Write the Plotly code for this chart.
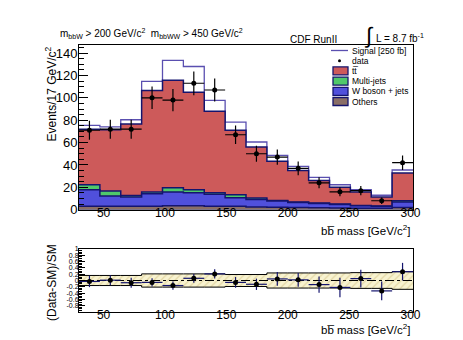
import plotly.graph_objects as go

# ---------------- data ----------------
bin_edges = [30, 47, 64, 81, 98, 115, 132, 149, 166, 183, 200, 217, 234, 251, 268, 285, 302]
others   = [3.0, 3.0, 3.0, 3.0, 3.6, 3.6, 3.0, 3.0, 2.5, 2.2, 2.0, 1.8, 1.5, 1.3, 1.2, 2.0]
wjets    = [14.9, 9.2, 8.3, 11.3, 12.2, 11.6, 10.7, 7.7, 6.7, 5.5, 4.5, 3.8, 3.2, 2.2, 1.8, 4.9]
multijet = [4.4, 4.5, 1.5, 1.5, 3.9, 2.7, 1.5, 2.7, 1.3, 0.6, 0.4, 0.4, 0.4, 0.3, 0.3, 1.1]
ttbar    = [49.7, 54.8, 63.7, 90.8, 95.9, 87.1, 72.7, 57.5, 45.5, 34.9, 28.2, 20.0, 14.9, 12.0, 8.0, 24.7]
signal   = [3.4, 2.5, 3.9, 8.1, 17.9, 23.0, 9.8, 7.4, 4.5, 5.4, 3.6, 2.9, 2.3, 2.1, 1.6, 2.8]
data     = [71, 72, 72, 100, 98, 113, 107, 67, 50, 47, 37, 24, 16, 17, 8, 42]
data_err = [8.4, 8.5, 8.5, 10.0, 9.9, 10.6, 10.3, 8.2, 7.1, 6.9, 6.1, 4.9, 4.0, 4.1, 2.8, 6.5]
ratio     = [-0.03, 0.01, -0.07, -0.06, -0.16, 0.07, 0.21, -0.06, -0.12, 0.05, 0.02, -0.13, -0.22, 0.06, -0.33, 0.28]
ratio_err = [0.18, 0.16, 0.16, 0.13, 0.13, 0.14, 0.15, 0.17, 0.18, 0.22, 0.22, 0.26, 0.31, 0.28, 0.30, 0.28]
band_half = [0.16, 0.16, 0.16, 0.21, 0.21, 0.21, 0.21, 0.19, 0.19, 0.24, 0.24, 0.24, 0.24, 0.25, 0.25, 0.28]

x_tick_vals = [50, 100, 150, 200, 250, 300]
y_tick_vals = [0, 20, 40, 60, 80, 100, 120, 140]
ratio_tick_vals = [-0.8, -0.6, -0.4, -0.2, 0, 0.2, 0.4, 0.6, 0.8, 1]
ratio_tick_text = ["-0.8", "-0.6", "-0.4", "-0.2", "0", "0.2", "0.4", "0.6", "0.8", "1"]

# ---------------- helpers ----------------
W, H = 463, 340
ML, MR, MT, MB = 71, 58, 37, 36
PW, PH = W - ML - MR, H - MT - MB
FONT = "Liberation Sans, Arial, sans-serif"

def px(x):
    return (x - ML) / PW

def py(y):
    return (H - MB - y) / PH

def step(v):
    return list(v) + [v[-1]]

def cum(*arrs):
    return [sum(a[i] for a in arrs) for i in range(len(arrs[0]))]

centers = [(a + b) / 2 for a, b in zip(bin_edges[:-1], bin_edges[1:])]
half_w = [(b - a) / 2 for a, b in zip(bin_edges[:-1], bin_edges[1:])]

c_oth = cum(others)
c_w = cum(others, wjets)
c_mj = cum(others, wjets, multijet)
c_sm = cum(others, wjets, multijet, ttbar)
c_sig = cum(others, wjets, multijet, ttbar, signal)

NAVY = "#14146e"
SIGC = "#5a4fb0"
RED = "#cd5a5a"
GREEN = "#4fc86a"
BLUE = "#5050dc"
BROWN = "#8a6e66"

fig = go.Figure()

def hist(vals, fill, line, lw=1.5):
    fig.add_trace(go.Scatter(
        x=bin_edges, y=step(vals), mode="lines", line=dict(shape="hv", color=line, width=lw),
        fill="tozeroy", fillcolor=fill, xaxis="x", yaxis="y", showlegend=False, hoverinfo="skip"))

hist(c_sig, "white", SIGC, 1.3)
hist(c_sm, RED, NAVY)
hist(c_mj, GREEN, NAVY)
hist(c_w, BLUE, NAVY)
hist(c_oth, BROWN, NAVY)

fig.add_trace(go.Scatter(
    x=centers, y=data, mode="markers",
    marker=dict(color="black", size=5),
    error_y=dict(type="data", array=data_err, color="black", thickness=1.2, width=0),
    error_x=dict(type="data", array=half_w, color="black", thickness=1.2, width=0),
    xaxis="x", yaxis="y", showlegend=False))

# ratio panel
fig.add_trace(go.Scatter(
    x=bin_edges, y=step([-h for h in band_half]), mode="lines",
    line=dict(shape="hv", color="black", width=1), xaxis="x2", yaxis="y2", showlegend=False))
fig.add_trace(go.Scatter(
    x=bin_edges, y=step(band_half), mode="lines",
    line=dict(shape="hv", color="black", width=1), fill="tonexty", fillcolor="#f8f3d0",
    fillpattern=dict(shape="/", bgcolor="#f8f3d0", fgcolor="#cdbb7a", size=5, solidity=0.25),
    xaxis="x2", yaxis="y2", showlegend=False))
fig.add_trace(go.Scatter(
    x=[bin_edges[0], bin_edges[-1]], y=[0, 0], mode="lines",
    line=dict(color="black", width=1, dash="dashdot"), xaxis="x2", yaxis="y2", showlegend=False))
fig.add_trace(go.Scatter(
    x=centers, y=ratio, mode="markers",
    marker=dict(color="black", size=5),
    error_y=dict(type="data", array=ratio_err, color=NAVY, thickness=1.2, width=0),
    error_x=dict(type="data", array=half_w, color=NAVY, thickness=1.2, width=0),
    xaxis="x2", yaxis="y2", showlegend=False))

axis_common = dict(showline=True, linecolor="black", linewidth=1, mirror=True, showgrid=False,
                   zeroline=False, tickfont=dict(family=FONT, size=12, color="black"))

fig.update_layout(
    width=W, height=H, paper_bgcolor="white", plot_bgcolor="white",
    margin=dict(l=ML, r=MR, t=MT, b=MB),
    font=dict(family=FONT, color="black"),
    xaxis=dict(domain=[0, 1], range=[bin_edges[0], bin_edges[-1]], anchor="y",
               tickvals=x_tick_vals, ticks="", ticklabelstandoff=-8, **axis_common),
    yaxis=dict(domain=[py(201.7), 1], range=[0, 147.2], anchor="x",
               tickvals=y_tick_vals, ticks="inside", ticklen=9, tickcolor="black",
               minor=dict(dtick=5, ticks="inside", ticklen=5, tickcolor="black"),
               ticklabelstandoff=-2,
               **{**axis_common, "tickfont": dict(family=FONT, size=13, color="black")}),
    xaxis2=dict(domain=[0, 1], range=[bin_edges[0], bin_edges[-1]], anchor="y2",
                tickvals=x_tick_vals, ticks="", ticklabelstandoff=-8, **axis_common),
    yaxis2=dict(domain=[0, py(241)], range=[-1, 1], anchor="x2",
                tickvals=ratio_tick_vals, ticktext=ratio_tick_text,
                ticks="inside", ticklen=6, tickcolor="black",
                minor=dict(dtick=0.05, ticks="inside", ticklen=3, tickcolor="black"),
                ticklabelstandoff=-2,
                **{**axis_common, "tickfont": dict(family=FONT, size=7, color="black")}),
)

ann = []
def text(t, x, y, size, xanchor="left", yanchor="middle", angle=0):
    ann.append(dict(text=t, x=px(x), y=py(y), xref="paper", yref="paper", showarrow=False,
                    xanchor=xanchor, yanchor=yanchor, textangle=angle,
                    font=dict(family=FONT, size=size, color="black")))

BB = "bb\u0305"
text("m<sub>bbW</sub> > 200 GeV/c<sup>2</sup>  m<sub>bbWW</sub> > 450 GeV/c<sup>2</sup>", 50, 26, 10)
text("CDF RunII", 280, 32, 10)
text("∫", 361, 28, 22, xanchor="center")
text("L = 8.7 fb<sup>-1</sup>", 366, 30, 10)
text("Events/17 GeV/c<sup>2</sup>", 42, 37, 12, xanchor="center", yanchor="top", angle=-90)
text("(Data-SM)/SM", 44, 275, 12, xanchor="center", yanchor="middle", angle=-90)
text(BB + " mass [GeV/c<sup>2</sup>]", 405, 222, 11.5, xanchor="right")
text(BB + " mass [GeV/c<sup>2</sup>]", 405, 321, 11.5, xanchor="right")

# manual legend
leg_items = [("Signal [250 fb]", "line", SIGC), ("data", "dot", "black"),
             ("tt\u0305", "box", RED), ("Multi-jets", "box", GREEN),
             ("W boson + jets", "box", BLUE), ("Others", "box", BROWN)]
shapes = []
for i, (lab, kind, col) in enumerate(leg_items):
    yc = 42.5 + i * 10.2
    if kind == "line":
        shapes.append(dict(type="line", xref="paper", yref="paper", x0=px(323), x1=px(340),
                           y0=py(yc), y1=py(yc), line=dict(color=col, width=1.3)))
    elif kind == "dot":
        shapes.append(dict(type="circle", xref="paper", yref="paper", x0=px(330), x1=px(333),
                           y0=py(yc - 1.5), y1=py(yc + 1.5), fillcolor="black", line=dict(width=0)))
    else:
        shapes.append(dict(type="rect", xref="paper", yref="paper", x0=px(325), x1=px(340),
                           y0=py(yc - 4), y1=py(yc + 4), fillcolor=col, line=dict(color=NAVY, width=1.3)))
    text(lab, 342, yc, 8.5)

fig.update_layout(annotations=ann, shapes=shapes)
fig.write_html("out.html")
